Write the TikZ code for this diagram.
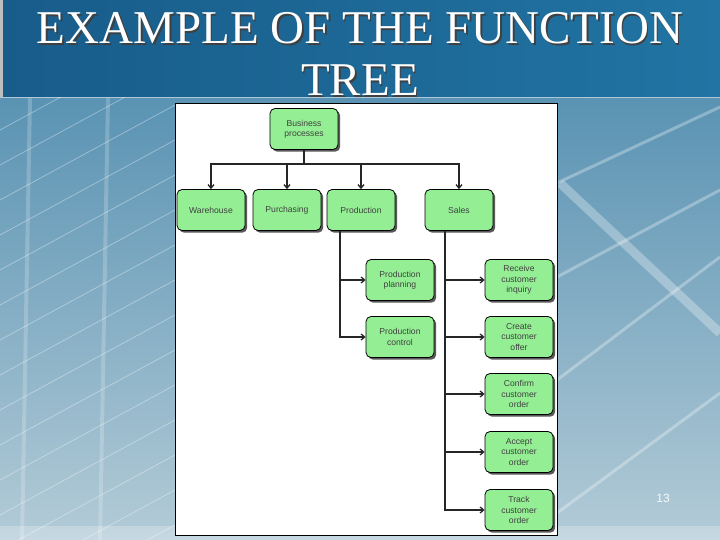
\documentclass[tikz,border=0pt]{standalone}
\usepackage{fontspec}
\setmainfont{Liberation Serif}
\newfontfamily\boxfont{Liberation Sans}
\usepackage{tikz}
\usetikzlibrary{arrows.meta,positioning,shadows}
\definecolor{cbar}{HTML}{2174A3}
\definecolor{cbardark}{HTML}{185C8A}
\definecolor{csky}{HTML}{5A93B3}
\definecolor{cmist}{HTML}{B3CBD7}
\definecolor{cleaf}{HTML}{94EF94}
\definecolor{cink}{HTML}{404040}
\newcommand\shtext[1]{\rlap{\kern1.6pt\raisebox{-1.6pt}{\color{black!75}#1}}#1}

\tikzset{
  fbox/.style={draw=black,line width=0.8pt,rounded corners=5pt,fill=cleaf,
    minimum width=68pt,minimum height=41pt,align=center,text=cink,
    font=\boxfont\fontsize{8.6}{10.4}\selectfont,
    drop shadow={shadow xshift=2.2pt,shadow yshift=-2.2pt,fill=black!65,opacity=1}},
  conn/.style={draw=black!85,line width=1.3pt,-{Straight Barb[length=3.5pt,width=6pt]}},
  streak/.style={white,opacity=0.35,line width=#1},
}

\begin{document}
\begin{tikzpicture}[x=1pt,y=-1pt]
  \useasboundingbox (0,0) rectangle (720,540);
  % slide background
  \fill[left color=cbardark,right color=cbar] (0,0) rectangle (720,98);
  \fill[black!25] (0,0) rectangle (3,98);
  \fill[top color=csky,bottom color=cmist] (0,98) rectangle (720,540);
  \begin{scope}
  \clip (0,98) rectangle (720,540);
  \foreach \y in {130,165,...,620}{\draw[streak=0.8pt] (0,\y) -- (175,\y-95);}
  \foreach \x in {30,108}{\draw[streak=4pt,opacity=0.2] (\x,98) -- (\x-8,540);}
  \draw[streak=9pt,opacity=0.3] (560,183) -- (720,333);
  \foreach \a/\b in {277/190,380/257,513/393,183/107}{\draw[streak=3pt,opacity=0.3] (557,\a) -- (720,\b);}
  \end{scope}
  \fill[white,opacity=0.25] (0,526) rectangle (720,540);
  \draw[white,opacity=0.5,line width=1pt] (0,98) -- (720,98);
  % title
  \node[font=\fontsize{47}{52}\selectfont,text=white,align=center] (title) at (360,55)
    {\shtext{EXAMPLE OF THE FUNCTION}\\\shtext{TREE}};
  % panel
  \node[draw=black,line width=1pt,fill=white,minimum width=382pt,minimum height=431pt,inner sep=0pt] (panel) at (366,319.5) {};
  % function tree
  \node[fbox] (bp) at (304,129) {Business\\processes};
  \foreach \n/\x/\t in {wh/211/Warehouse,pu/287/Purchasing,pr/361/Production,sa/459/Sales}{
    \node[fbox] (\n) at (\x,210) {\t};
    \draw[conn] (bp.south) -- ++(0,14) -| (\n.north);}
  \foreach \n/\y/\t in {ppl/280/planning,pco/337/control}{
    \node[fbox] (\n) at (400,\y) {Production\\\t};
    \draw[conn] ([xshift=-21pt]pr.south) |- (\n.west);}
  \foreach \n/\y/\t/\u in {rci/280/Receive/inquiry,cco/337/Create/offer,cfo/394/Confirm/order,aco/452/Accept/order,tco/510/Track/order}{
    \node[fbox] (\n) at (519,\y) {\t\\customer\\\u};
    \draw[conn] ([xshift=-14pt]sa.south) |- (\n.west);}
  \node[font=\boxfont\fontsize{12}{14}\selectfont,text=white!90!cmist] (pagenum) at (663,498) {13};
\end{tikzpicture}
\end{document}
